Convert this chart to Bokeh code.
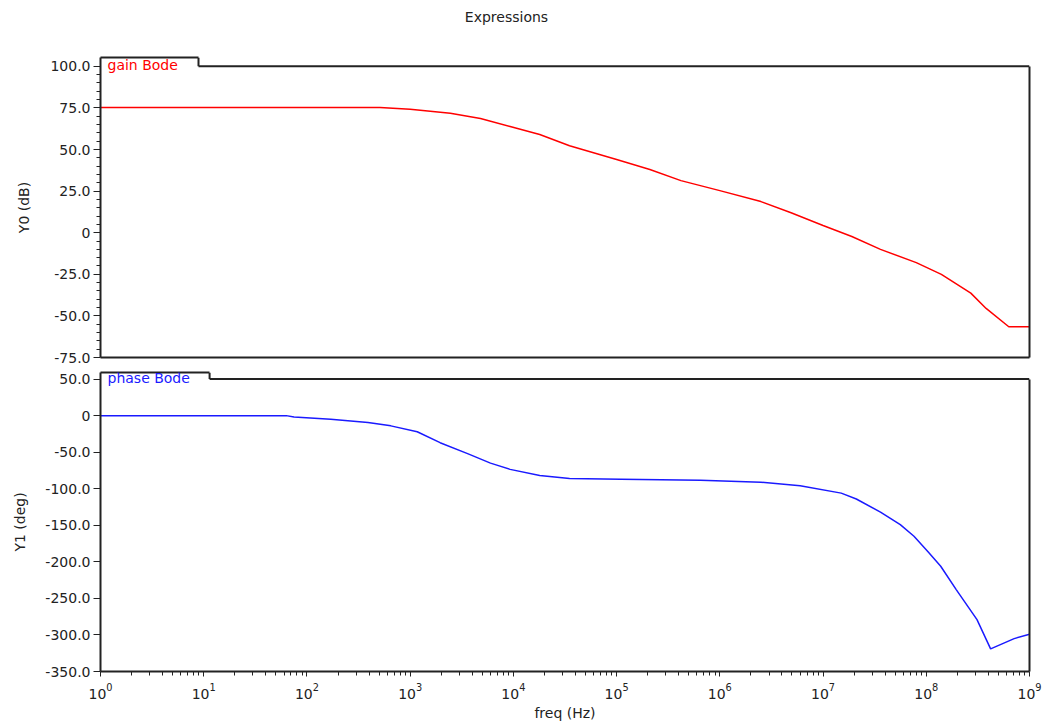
from bokeh.plotting import figure
from bokeh.layouts import column
from bokeh.models import (Range1d, FixedTicker, NumeralTickFormatter, Label,
                          LinearAxis, LogAxis, Div)
from bokeh.embed import file_html
from bokeh.resources import INLINE

# ---- data ----
freq_gain = [1, 510, 1000, 2450, 4800, 9300, 18000, 35000, 1e5, 2.1e5, 4.2e5,
             1e6, 2.5e6, 4.9e6, 1e7, 1.9e7, 3.6e7, 8e7, 1.4e8, 2.7e8, 3.8e8, 6.3e8, 1e9]
gain_db = [75.3, 75.2, 74.2, 71.8, 68.6, 63.8, 59.0, 52.3, 44.0, 38.0, 31.3,
           25.3, 18.7, 12.0, 4.3, -2.3, -10.0, -18.0, -25.0, -36.3, -45.5, -56.5, -56.5]

freq_phase = [1, 63, 75, 170, 390, 650, 1170, 1950, 3600, 6000, 9300, 18000, 35000,
              1.1e5, 6.5e5, 2.5e6, 6e6, 1.5e7, 2.1e7, 3.6e7, 5.6e7, 7.6e7, 1.05e8,
              1.38e8, 1.95e8, 3.1e8, 4.2e8, 7.1e8, 1e9]
phase_deg = [0, 0, -2, -5, -9.4, -14, -22, -37, -52, -65, -73.5, -82, -86,
             -87, -88.5, -91, -96, -106, -114, -132, -149, -165, -187,
             -206, -238, -279, -319, -305, -299]

decade_ticks = [1, 10, 100, 1e3, 1e4, 1e5, 1e6, 1e7, 1e8, 1e9]
gain_ticks = [-75, -50, -25, 0, 25, 50, 75, 100]
phase_ticks = [-350, -300, -250, -200, -150, -100, -50, 0, 50]

TITLE = "Expressions"
FONT = "DejaVu Sans"
FS = "14px"
FRAME = "#222222"

x_minor = [m * d for d in decade_ticks[:-1] for m in range(2, 10)]
gain_minor = [v for v in range(-75, 101, 5) if v not in gain_ticks]


def style_y(ax, ticks, minor, label, standoff):
    ax.ticker = FixedTicker(ticks=ticks, minor_ticks=minor)
    ax.formatter = NumeralTickFormatter(format="0.0")
    ax.major_label_overrides = {0: "0"}
    ax.axis_label = label
    ax.axis_label_text_font = FONT
    ax.axis_label_text_font_size = FS
    ax.axis_label_text_font_style = "normal"
    ax.axis_label_text_color = "#222222"
    ax.axis_label_standoff = standoff
    ax.major_label_text_font = FONT
    ax.major_label_text_font_size = FS
    ax.major_label_text_color = "#222222"
    ax.major_label_standoff = 3
    ax.major_tick_in = 0
    ax.major_tick_out = 7
    ax.minor_tick_in = 0
    ax.minor_tick_out = 4
    ax.axis_line_color = FRAME
    ax.axis_line_width = 2
    ax.major_tick_line_color = FRAME
    ax.minor_tick_line_color = FRAME


def bare(ax, bounds=None):
    ax.ticker = FixedTicker(ticks=[], minor_ticks=[])
    ax.major_tick_in = 0
    ax.major_tick_out = 0
    ax.minor_tick_in = 0
    ax.minor_tick_out = 0
    ax.major_label_standoff = 0
    ax.axis_line_color = FRAME
    ax.axis_line_width = 2
    if bounds is not None:
        ax.bounds = bounds
    return ax


def frame_box(p, ymin, ytop, tab_right, tab_top, text, color):
    """Box around the plot with a name tab at its top-left corner."""
    p.outline_line_color = None
    p.xgrid.visible = False
    p.ygrid.visible = False
    p.add_layout(bare(LinearAxis(), (ymin, ytop)), "right")
    p.add_layout(bare(LogAxis(), (1, tab_right)), "above")
    p.segment(x0=[tab_right, tab_right], y0=[ytop, ytop],
              x1=[1e9, tab_right], y1=[ytop, tab_top],
              line_color=FRAME, line_width=2)
    p.add_layout(Label(x=1, y=ytop, x_offset=7, y_offset=1, text=text,
                       text_color=color, text_font=FONT, text_font_size=FS,
                       text_baseline="middle"))


# ---------- page title ----------
title = Div(text=TITLE, width=1013, height=34, margin=0,
            styles={"font-family": FONT, "font-size": FS, "color": "#222222",
                    "text-align": "center", "line-height": "34px", "width": "1013px"})

# ---------- gain panel ----------
top = figure(width=1042, height=331, x_axis_type="log", x_axis_location=None,
             x_range=Range1d(1, 1e9), y_range=Range1d(-75, 105.3),
             output_backend="svg", toolbar_location=None,
             min_border_left=100, min_border_right=13, min_border_top=23, min_border_bottom=8)
style_y(top.yaxis[0], gain_ticks, gain_minor, "Y0 (dB)", 15)
top.add_layout(bare(LogAxis()), "below")
frame_box(top, -75, 100, 8.9, 105.3, "gain Bode", "#ff0000")
top.line(freq_gain, gain_db, line_color="#ff0000", line_width=1.5)

# ---------- phase panel ----------
bot = figure(width=1042, height=358, x_axis_type="log",
             x_range=Range1d(1, 1e9), y_range=Range1d(-350, 59),
             output_backend="svg", toolbar_location=None,
             min_border_left=100, min_border_right=13, min_border_top=7, min_border_bottom=50)
style_y(bot.yaxis[0], phase_ticks, [], "Y1 (deg)", 14)
xa = bot.xaxis[0]
xa.ticker = FixedTicker(ticks=decade_ticks, minor_ticks=x_minor)
xa.axis_label = "freq (Hz)"
xa.axis_label_text_font = FONT
xa.axis_label_text_font_size = FS
xa.axis_label_text_font_style = "normal"
xa.axis_label_text_color = "#222222"
xa.axis_label_standoff = 3
xa.major_label_text_font = FONT
xa.major_label_text_font_size = FS
xa.major_label_text_color = "#222222"
xa.major_label_standoff = 6
xa.major_tick_in = 0
xa.major_tick_out = 5
xa.minor_tick_in = 0
xa.minor_tick_out = 4
xa.axis_line_color = FRAME
xa.axis_line_width = 2
xa.major_tick_line_color = FRAME
xa.minor_tick_line_color = FRAME
frame_box(bot, -350, 50, 11.4, 59, "phase Bode", "#1a1aff")
bot.line(freq_phase, phase_deg, line_color="#1a1aff", line_width=1.5)

layout = column(title, top, bot)
open("out.html", "w").write(file_html(layout, INLINE))
